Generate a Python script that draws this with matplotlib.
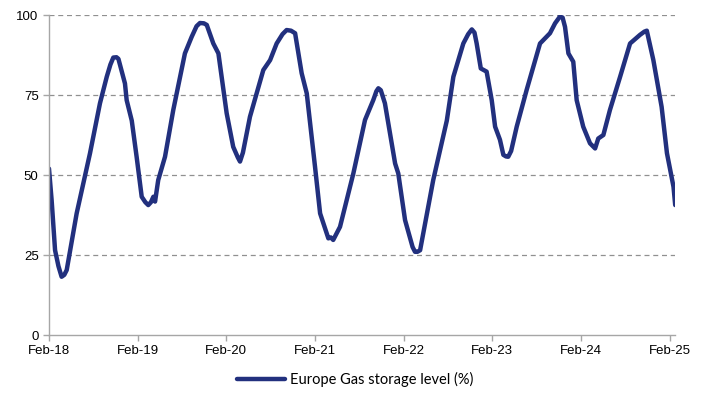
import matplotlib
matplotlib.use("Agg")
import matplotlib.pyplot as plt
import matplotlib.dates as mdates
import pandas as pd

# Valores (fecha, nivel de almacenamiento %)
fechas = [
    "2018-02-01", "2018-02-12", "2018-02-26", "2018-03-12", "2018-03-25", "2018-04-05",
    "2018-04-15", "2018-05-26",
    "2018-07-20", "2018-08-30", "2018-09-27", "2018-10-12", "2018-10-24", "2018-11-06",
    "2018-11-14", "2018-12-11",
    "2018-12-18", "2019-01-08", "2019-01-28", "2019-02-18", "2019-03-05", "2019-03-17",
    "2019-03-28", "2019-04-07",
    "2019-04-14", "2019-04-27", "2019-05-25", "2019-06-28", "2019-08-15", "2019-09-12",
    "2019-10-02", "2019-10-16", "2019-11-01", "2019-11-13", "2019-12-10", "2019-12-31",
    "2020-02-03", "2020-03-01",
    "2020-03-20", "2020-03-29", "2020-04-10", "2020-05-09", "2020-07-03", "2020-07-31",
    "2020-08-27", "2020-09-20", "2020-10-07", "2020-10-25",
    "2020-11-11", "2020-12-08", "2020-12-29", "2021-02-01", "2021-02-22", "2021-03-28",
    "2021-04-07", "2021-04-17", "2021-05-15", "2021-07-09", "2021-08-26", "2021-09-29",
    "2021-10-12", "2021-10-20", "2021-10-30",
    "2021-11-16", "2021-12-28", "2022-01-10", "2022-02-07", "2022-03-10", "2022-03-20",
    "2022-03-30", "2022-04-10",
    "2022-06-03", "2022-07-29", "2022-08-25", "2022-10-05", "2022-10-25", "2022-11-09",
    "2022-11-20", "2022-11-29",
    "2022-12-16", "2023-01-09", "2023-01-30", "2023-02-13", "2023-03-05", "2023-03-19",
    "2023-03-30", "2023-04-08", "2023-04-20", "2023-05-13", "2023-06-23", "2023-08-17",
    "2023-09-27", "2023-10-18",
    "2023-11-07", "2023-11-18", "2023-11-28", "2023-12-12", "2024-01-01", "2024-01-15",
    "2024-02-11", "2024-03-10", "2024-03-31", "2024-04-13", "2024-05-04", "2024-05-31",
    "2024-07-12", "2024-08-22", "2024-10-02", "2024-10-20", "2024-10-30", "2024-11-26",
    "2024-12-30", "2025-01-21", "2025-02-17", "2025-02-24",
]
nivel = [
    52, 42, 26.5, 21.5, 18.2, 18.8,
    20.3, 38,
    56.8, 72.4, 80.7, 84.5, 86.7, 86.8,
    86.3, 78.6,
    73.4, 67, 55.7, 43.2, 41.5, 40.6,
    41.5, 43.2,
    41.7, 48.4, 55.7, 70.3, 88, 93.2,
    96.5, 97.5, 97.4, 96.9, 91.1, 88,
    69.3, 58.8,
    55.5, 54.2, 57, 68.2, 82.8, 85.9,
    91.1, 94, 95.3, 95.1,
    94.3, 81.8, 75.5, 52.6, 38, 30.2,
    30.5, 29.7, 33.8, 50.5, 67.2, 73.4,
    76.2, 77.1, 76.5,
    72.4, 53.6, 50.5, 35.9, 27.5, 26,
    26, 26.5,
    48.4, 67, 80.7, 91.1, 94, 95.5,
    94.5, 91.1,
    83.3, 82.3, 73.4, 65.1, 61, 56.3,
    55.8, 55.7, 57.5, 65.1, 76.6, 91.1,
    94.3, 97.4,
    99.5, 99.2, 96.3, 88, 85.4, 73.4,
    65.1, 59.9, 58.3, 61.4, 62.5, 70.3,
    80.7, 91.1, 93.8, 94.8, 95.1, 85.9,
    71.3, 56.8, 46.3, 40.6,
]
ticks_x = ["2018-02-01", "2019-02-01", "2020-02-01", "2021-02-01", "2022-02-01",
           "2023-02-01", "2024-02-01", "2025-02-01"]
ticks_y = [0, 25, 50, 75, 100]

x = pd.to_datetime(fechas)

fig = plt.figure(figsize=(7.1, 4.0), dpi=100)
ax = fig.add_axes([0.069, 0.1625, 0.882, 0.8])

ax.plot(x, nivel, color="#22307E", linewidth=3.2, solid_joinstyle="round",
        solid_capstyle="round", label="Europe Gas storage level (%)")

ax.set_ylim(0, 100)
ax.set_yticks(ticks_y)
ax.set_xlim(pd.Timestamp("2018-02-01"), pd.Timestamp("2025-02-24"))
ax.set_xticks(pd.to_datetime(ticks_x))
ax.xaxis.set_major_formatter(mdates.DateFormatter("%b-%y"))

for v in ticks_y[1:]:
    ax.axhline(v, color="#909090", linewidth=0.9, linestyle=(0, (4, 3)), zorder=0)

for s in ["top", "right"]:
    ax.spines[s].set_visible(False)
for s in ["left", "bottom"]:
    ax.spines[s].set_color("#A6A6A6")
    ax.spines[s].set_linewidth(1.0)

ax.tick_params(axis="both", colors="#A6A6A6", labelcolor="black", labelsize=9.5,
               length=4, width=1.0)
for lbl in ax.get_xticklabels() + ax.get_yticklabels():
    lbl.set_family("Liberation Sans")

fig.legend(loc="lower center", bbox_to_anchor=(0.5, 0.0), frameon=False,
           prop={"family": "Lato", "size": 10.5}, handlelength=3.3, handletextpad=0.3)

fig.savefig("out.png", dpi=100)
